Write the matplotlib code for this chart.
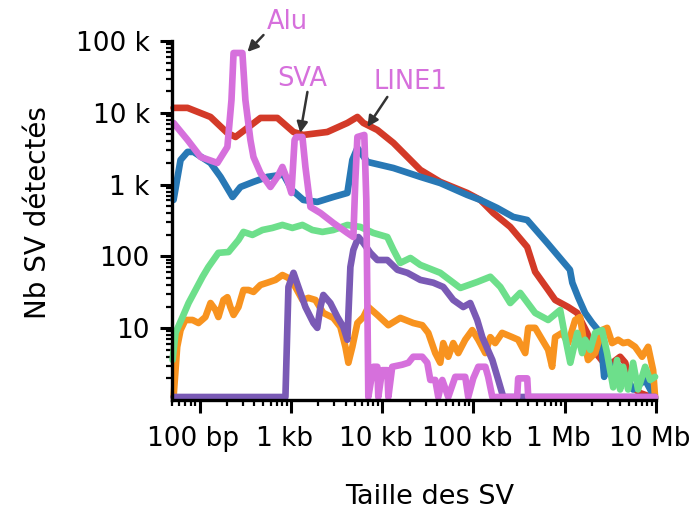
import matplotlib
matplotlib.use("Agg")
import matplotlib.pyplot as plt
import matplotlib.transforms as mtransforms
from matplotlib.ticker import FixedLocator, LogLocator, NullFormatter

plt.rcParams['font.family'] = ['DejaVu Sans']

# SV size (bp) and number of detected SV
red_x = [52, 74, 132, 202, 248, 465, 713, 1070, 1370, 2510, 4160, 5360, 6230, 8860, 13300,
         26200, 43300, 85500, 119000, 165000, 253000, 388000, 474000, 658000, 785000,
         1.09e6, 1.37e6, 1.55e6, 1.76e6, 2.05e6, 2.91e6, 4.04e6, 4.6e6, 5.2e6, 6.68e6, 9.75e6]
red_y = [11700, 11700, 8740, 5230, 4600, 8470, 8470, 5400, 4910, 5400, 7210, 8740, 7210, 5760, 3800,
         1600, 1090, 764, 611, 402, 257, 135, 61, 34, 24.7,
         19.7, 16.3, 11.8, 8.6, 5.0, 2.9, 4.0, 3.3, 1.6, 1.25, 1.05]

blue_x = [52, 62, 74, 86, 132, 170, 230, 281, 390, 554, 830, 1030, 1370, 1950, 2920, 4160, 4720,
          5360, 6890, 13300, 26200, 43300, 85500, 119000, 182000, 273000, 388000, 642000,
          1.14e6, 1.21e6, 1.40e6, 1.67e6, 2.0e6, 2.32e6, 2.56e6, 2.70e6, 2.99e6, 3.39e6,
          4.04e6, 5.6e6, 7.6e6, 9.75e6]
blue_y = [611, 2200, 2850, 2850, 2000, 1280, 672, 926, 1090, 1280, 1380, 840, 611, 573, 672, 764, 2200,
          3230, 2070, 1700, 1280, 1050, 717, 611, 472, 354, 321, 154,
          65, 43, 27, 16.3, 11.8, 9.4, 4.5, 2.1, 3.6, 2.2,
          2.9, 1.4, 1.9, 1.05]

orange_x = [52, 57, 62, 70, 84, 97.5, 116, 132, 150, 161, 183, 202, 218, 236, 267, 303, 344, 390,
            465, 554, 679, 809, 942, 1120, 1340, 1560, 1860, 2270, 2920, 3490, 3960, 4270, 4720,
            5360, 6230, 7060, 8860, 11700, 15800, 21900, 27500, 32000, 38200, 43300, 46700,
            53000, 60100, 68200, 81300, 97000, 113000, 135000, 153000, 173000, 206000, 266000,
            309000, 369000, 398000, 474000, 566000, 658000, 727000, 785000, 937000, 1.09e6,
            1.30e6, 1.47e6, 1.59e6, 1.80e6, 2.15e6, 2.56e6, 2.91e6, 3.30e6, 3.84e6, 4.36e6,
            4.94e6, 5.89e6, 7.03e6, 8.18e6, 9.28e6, 9.75e6]
orange_y = [1.1, 5.5, 9.4, 13.0, 13.0, 11.8, 14.3, 22.4, 17.9, 14.3, 24.7, 27, 19.7, 15.3, 19.7, 34, 34, 32,
            40, 43, 47, 55, 50, 37.5, 24.7, 26.4, 24.7, 16.3, 13.9, 10.4, 5.5, 3.3, 5.5,
            11.8, 14.3, 19.7, 15.3, 11.0, 13.9, 11.8, 11.0, 8.6, 4.5, 3.3, 6.2,
            4.0, 6.2, 4.5, 6.9, 9.4, 6.9, 4.5, 7.5, 6.2, 8.6, 7.5,
            6.9, 4.5, 10.1, 10.1, 6.9, 5.0, 2.9, 7.5, 8.6, 6.2,
            13.0, 14.3, 7.5, 3.6, 4.5, 9.4, 10.1, 6.2, 6.9, 6.2,
            6.4, 5.5, 4.0, 5.5, 2.6, 1.1]

purple_x = [52, 873, 942, 1070, 1210, 1445, 1770, 1950, 2110, 2270, 2710, 3240, 3760, 4160, 4490,
            4840, 5500, 6230, 7430, 8860, 11400, 14700, 18900, 26200, 36300, 46700, 60100,
            77300, 92200, 110000, 125000, 161000, 187000, 212000, 9.75e6]
purple_y = [1.1, 1.1, 37.5, 59, 37.5, 19.7, 11.8, 10.1, 19.7, 29, 22.4, 14.3, 10.4, 6.9, 71,
            123, 186, 154, 112, 89, 89, 65, 59, 47, 43, 37.5, 24.7,
            19.7, 22.4, 13.0, 7.5, 3.6, 1.9, 1.1, 1.1]

green_x = [50.7, 54.6, 65.2, 75.9, 90.4, 108, 125, 161, 208, 267, 303, 380, 489, 629, 809, 1040,
           1340, 1720, 2220, 2920, 4160, 5770, 8010, 11400, 13300, 15800, 20400, 26200, 43300,
           71800, 110000, 153000, 197000, 253000, 325000, 474000, 658000, 891000, 1.01e6,
           1.15e6, 1.24e6, 1.37e6, 1.55e6, 1.67e6, 1.90e6, 2.15e6, 2.56e6, 2.91e6, 3.39e6,
           3.74e6, 4.04e6, 4.36e6, 4.94e6, 5.60e6, 6.35e6, 7.59e6, 8.6e6, 9.75e6]
green_y = [3.6, 8.6, 14.3, 22.4, 34, 52, 71, 112, 115, 169, 219, 199, 233, 249, 274, 249,
           274, 233, 219, 233, 274, 257, 212, 186, 123, 81, 95, 76, 59,
           36.3, 44, 52, 37.5, 22.4, 31, 16.3, 13.0, 17.9, 7.5,
           3.3, 5.0, 8.6, 4.5, 6.9, 5.0, 8.6, 9.4, 4.5, 1.5,
           3.6, 1.4, 2.9, 1.4, 3.3, 1.4, 2.9, 1.9, 2.1]

pink_x = [52, 74, 103, 157, 202, 224, 236, 295, 318, 361, 390, 465, 598, 713, 809, 918, 1015,
          1100, 1150, 1340, 1445, 1640, 2110, 2920, 4160, 4840, 5090, 5360, 6380, 6710, 7060,
          8010, 8860, 9080, 10000, 11400, 11700, 12900, 16600, 19400, 21900, 27500, 31200,
          33700, 38200, 41200, 45600, 53000, 63200, 81300, 87700, 99500, 113000, 135000,
          145000, 161000, 301000, 309000, 388000, 398000, 9.75e6]
pink_y = [7210, 4180, 2420, 2000, 3340, 15100, 68000, 68000, 15100, 4180, 2420, 1450, 926, 1280, 1760, 1160, 764,
          4180, 4600, 4600, 1760, 488, 402, 292, 212, 186, 1160, 4600, 4910, 611, 1.1,
          2.9, 2.9, 1.1, 2.6, 2.6, 1.1, 2.9, 3.1, 3.3, 4.0, 4.0, 3.3,
          1.9, 1.9, 1.1, 1.9, 1.1, 2.1, 2.1, 1.1, 2.0, 2.9, 2.9,
          2.1, 1.1, 1.1, 2.0, 2.0, 1.1, 1.1]

series = [
    (red_x, red_y, '#d33a28'),
    (blue_x, blue_y, '#2878b5'),
    (orange_x, orange_y, '#f8931f'),
    (purple_x, purple_y, '#7a5ab5'),
    (green_x, green_y, '#6ddf8b'),
    (pink_x, pink_y, '#d670dc'),
]

x_ticks = [1e2, 1e3, 1e4, 1e5, 1e6, 1e7]
x_labels = ['100 bp', '1 kb', '10 kb', '100 kb', '1 Mb', '10 Mb']
y_ticks = [10, 100, 1e3, 1e4, 1e5]
y_labels = ['10', '100', '1 k', '10 k', '100 k']

# name, text position, arrow tail, arrow head
notes = [
    ('Alu', (918, 184000), (502, 121000), (335, 70300)),
    ('SVA', (1340, 29600), (1520, 19500), (1270, 5230)),
    ('LINE1', (20400, 26800), (11400, 16600), (6890, 6350)),
]

fig = plt.figure(figsize=(6.95, 5.12), dpi=100)
ax = fig.add_axes([0.2475, 0.2188, 0.6965, 0.7012])

for xs, ys, col in series:
    ax.plot(xs, ys, color=col, lw=4.8, solid_joinstyle='round', solid_capstyle='round', clip_on=False)

ax.set_xscale('log')
ax.set_yscale('log')
ax.set_xlim(50, 1e7)
ax.set_ylim(1, 1e5)

ax.xaxis.set_major_locator(FixedLocator(x_ticks))
ax.set_xticklabels(x_labels)
ax.yaxis.set_major_locator(FixedLocator(y_ticks))
ax.set_yticklabels(y_labels)
ax.xaxis.set_minor_locator(LogLocator(base=10, subs=range(2, 10), numticks=50))
ax.yaxis.set_minor_locator(LogLocator(base=10, subs=range(2, 10), numticks=50))
ax.xaxis.set_minor_formatter(NullFormatter())
ax.yaxis.set_minor_formatter(NullFormatter())

for s in ['top', 'right']:
    ax.spines[s].set_visible(False)
for s in ['left', 'bottom']:
    ax.spines[s].set_linewidth(2.4)
ax.tick_params(which='major', length=9, width=2.2, labelsize=19, color='black')
ax.tick_params(which='minor', length=4.5, width=1.6)
ax.tick_params(axis='x', which='major', pad=10)
ax.tick_params(axis='y', which='major', pad=7)

# x tick labels sit a little left of their ticks in the original
shift = mtransforms.ScaledTranslation(-6 / 100, 0, fig.dpi_scale_trans)
for lab in ax.get_xticklabels():
    lab.set_transform(lab.get_transform() + shift)

for name, txt, tail, head in notes:
    ax.annotate('', xy=head, xytext=tail, annotation_clip=False,
                arrowprops=dict(arrowstyle='-|>', color='#333333', lw=1.8,
                                mutation_scale=16, shrinkA=0, shrinkB=0))
    ax.text(txt[0], txt[1], name, color='#d670dc', fontsize=18.5, ha='center', va='center', clip_on=False)

fig.text(38 / 695, 1 - 213 / 512, 'Nb SV détectés', rotation=90, fontsize=20, ha='center', va='center')
fig.text(430 / 695, 1 - 497 / 512, 'Taille des SV', fontsize=19.5, ha='center', va='center')

fig.savefig('out.png', dpi=100)
